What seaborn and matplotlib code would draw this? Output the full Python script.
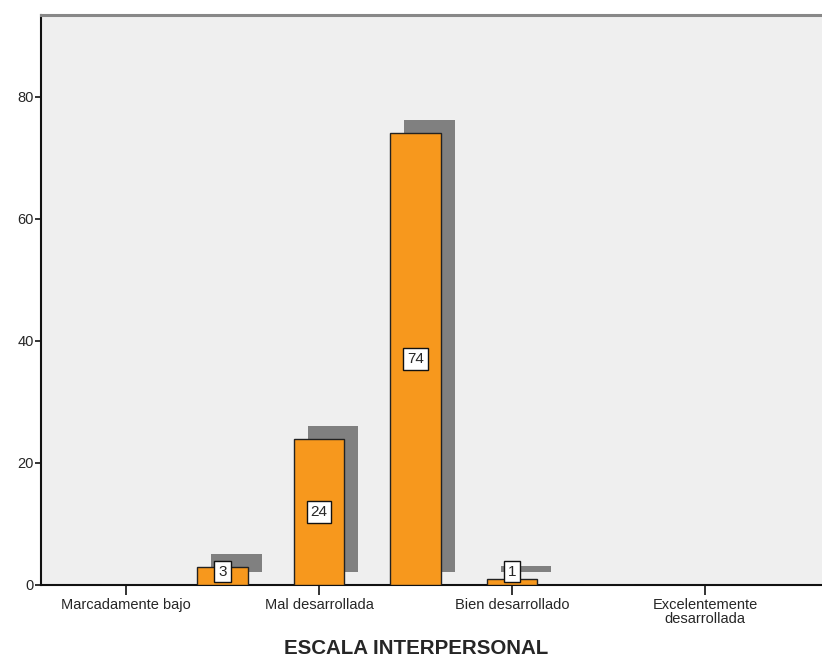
import matplotlib
matplotlib.use("Agg")
import matplotlib.pyplot as plt
from matplotlib.patches import Rectangle
import seaborn as sns
import pandas as pd

# Scale levels (1-7) and number of cases in each
levels = [1, 2, 3, 4, 5, 6, 7]
counts = [0, 3, 24, 74, 1, 0, 0]
tick_levels = [1, 3, 5, 7]
tick_labels = ["Marcadamente bajo", "Mal desarrollada", "Bien desarrollado",
               "Excelentemente\ndesarrollada"]
y_ticks = [0, 20, 40, 60, 80]
x_title = "ESCALA INTERPERSONAL"

bar_color = "#F7981D"
shadow_color = "#808080"
panel_color = "#EFEFEF"

sns.set_style("white")
plt.rcParams["font.family"] = ["Liberation Sans Narrow", "Liberation Sans", "DejaVu Sans"]

df = pd.DataFrame({"nivel": levels, "n": counts})

fig = plt.figure(figsize=(8.22, 6.59), dpi=100)
ax = fig.add_axes([41 / 822, 74 / 659, 781 / 822, 570 / 659])
ax.set_facecolor(panel_color)

sns.barplot(data=df, x="nivel", y="n", order=levels, color=bar_color,
            saturation=1, width=0.52, edgecolor="#222222", linewidth=1.0,
            ax=ax, zorder=3)

ax.set_xlim(-0.881, 7.212)
ax.set_ylim(0, 93.4)

# drop shadows and value boxes
dx, dy = 0.145, 2.13
for patch, val in zip(ax.patches, counts):
    if val <= 0:
        continue
    x0, w = patch.get_x(), patch.get_width()
    ax.add_patch(Rectangle((x0 + dx, dy), w, val, facecolor=shadow_color,
                           edgecolor="none", zorder=2))
    ax.text(x0 + w / 2, max(val / 2, 2.2), f"{val}", ha="center", va="center",
            fontsize=11, zorder=5,
            bbox=dict(boxstyle="square,pad=0.25", facecolor="white",
                      edgecolor="#111111", linewidth=1.0))

ax.set_xticks([levels.index(l) for l in tick_levels])
ax.set_xticklabels(tick_labels, fontsize=10.5, linespacing=0.95)
ax.set_yticks(y_ticks)
ax.set_yticklabels([str(v) for v in y_ticks], fontsize=10.5)
ax.tick_params(axis="x", direction="out", length=7.5, width=1.2, color="#111111", pad=2)
ax.tick_params(axis="y", direction="out", length=4, width=1.2, color="#111111", pad=1)
ax.tick_params(axis="x", bottom=True)
ax.tick_params(axis="y", left=True)

ax.set_xlabel(x_title, fontsize=14.8, fontweight="bold")
ax.xaxis.set_label_coords(0.480, -0.112, transform=ax.transAxes)
ax.xaxis.label.set_verticalalignment("center")
ax.set_ylabel("")

for side in ["left", "bottom"]:
    ax.spines[side].set_color("#111111")
    ax.spines[side].set_linewidth(1.5)
ax.spines["top"].set_color("#888888")
ax.spines["top"].set_linewidth(2.2)
ax.spines["right"].set_visible(False)

fig.savefig("out.png", dpi=100)
